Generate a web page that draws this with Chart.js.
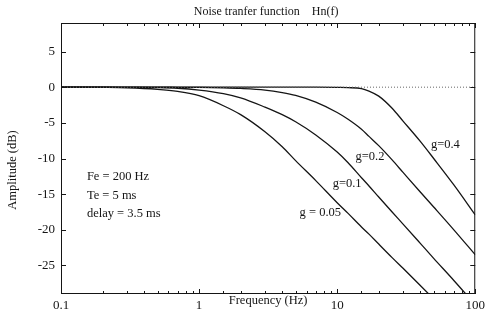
<!DOCTYPE html>
<html>
<head>
<meta charset="utf-8">
<script src="https://cdn.jsdelivr.net/npm/chart.js@4/dist/chart.umd.min.js"></script>
<style>
  html, body { margin: 0; padding: 0; background: #fff; }
  #c { display: block; }
</style>
</head>
<body>
<canvas id="c" width="489" height="319"></canvas>
<script>
// ---- data ----
const freqs = [0.1, 0.2, 0.3, 0.5, 0.7, 1, 1.5, 2, 3, 4, 5, 7, 10, 12, 15, 17, 20, 25, 30, 40, 50, 70, 100];
const g005  = [0, -0.03, -0.08, -0.3, -0.6, -1.2, -2.6, -3.85, -6.25, -8.35, -10.3, -13.1, -16.2, -17.7, -19.6, -20.6, -22.0, -23.9, -25.4, -27.8, -29.7, -32.6, -35.6];
const g01   = [0, 0, -0.02, -0.06, -0.15, -0.4, -0.9, -1.5, -2.8, -3.85, -4.85, -6.7, -9.1, -10.6, -12.7, -13.85, -15.4, -17.5, -19.2, -21.9, -24.0, -27.1, -30.5];
const g02   = [0, 0, 0, 0, -0.02, -0.04, -0.1, -0.18, -0.4, -0.75, -1.15, -2.1, -3.55, -4.5, -5.9, -6.9, -8.2, -10.2, -11.95, -14.7, -16.8, -20.0, -23.5];
const g04   = [0, 0, 0, 0, 0, 0, 0, 0, 0, 0, 0, 0, -0.03, -0.06, -0.2, -0.55, -1.25, -2.95, -4.75, -7.6, -10.0, -13.7, -17.9];
const zeroRef = [0, 0];
const zeroRefFreqs = [0.1, 100];
const seriesNames = ['g = 0.05', 'g=0.1', 'g=0.2', 'g=0.4'];
const xTickLabels = [0.1, 1, 10, 100];
const yTickValues = [-25, -20, -15, -10, -5, 0, 5];
const paramLines = ['Fe = 200 Hz', 'Te = 5 ms', 'delay = 3.5 ms'];

const toPts = (xs, ys) => xs.map((f, i) => ({ x: f, y: ys[i] }));

const FONT = '"Liberation Serif", "Times New Roman", serif';
const INK = '#151515';

const curveStyle = {
  borderColor: INK, borderWidth: 1.3, pointRadius: 0, fill: false,
  cubicInterpolationMode: 'monotone'
};

const annot = {
  id: 'annot',
  afterDraw(chart) {
    const { ctx, chartArea: a, scales: { x, y } } = chart;
    ctx.save();
    ctx.strokeStyle = INK;
    ctx.lineWidth = 1;
    // frame
    ctx.strokeRect(a.left + 0.5, a.top + 0.5, a.right - a.left - 1, a.bottom - a.top - 1);
    // x ticks (inward, top & bottom)
    ctx.beginPath();
    x.ticks.forEach(t => {
      const lg = Math.log10(t.value);
      const major = Math.abs(lg - Math.round(lg)) < 1e-6;
      const len = major ? 5 : 3;
      const px = Math.round(x.getPixelForValue(t.value)) + 0.5;
      ctx.moveTo(px, a.bottom); ctx.lineTo(px, a.bottom - len);
      ctx.moveTo(px, a.top); ctx.lineTo(px, a.top + len);
    });
    // y ticks (inward, left & right)
    yTickValues.forEach(v => {
      const py = Math.round(y.getPixelForValue(v)) + 0.5;
      ctx.moveTo(a.left, py); ctx.lineTo(a.left + 5, py);
      ctx.moveTo(a.right, py); ctx.lineTo(a.right - 5, py);
    });
    ctx.stroke();

    ctx.fillStyle = INK;
    ctx.textBaseline = 'middle';
    // title
    ctx.font = '12px ' + FONT;
    ctx.textAlign = 'center';
    ctx.fillText('Noise tranfer function    Hn(f)', (a.left + a.right) / 2 - 2, 11.5);
    // axis titles
    ctx.font = '12.5px ' + FONT;
    ctx.fillText('Frequency (Hz)', (a.left + a.right) / 2, 301);
    ctx.save();
    ctx.translate(13, 170);
    ctx.rotate(-Math.PI / 2);
    ctx.fillText('Amplitude (dB)', 0, 0);
    ctx.restore();
    // parameters
    ctx.textAlign = 'left';
    ctx.font = '12.5px ' + FONT;
    const paramPos = [-12.6, -15.2, -17.7];
    paramLines.forEach((s, i) => {
      ctx.fillText(s, x.getPixelForValue(0.154), y.getPixelForValue(paramPos[i]));
    });
    // curve labels
    ctx.textAlign = 'center';
    const labelPos = [[7.55, -17.6], [11.8, -13.6], [17.3, -9.8], [60.8, -8.0]];
    seriesNames.forEach((s, i) => {
      ctx.fillText(s, x.getPixelForValue(labelPos[i][0]), y.getPixelForValue(labelPos[i][1]));
    });
    ctx.restore();
  }
};

new Chart(document.getElementById('c'), {
  type: 'line',
  data: {
    datasets: [
      { data: toPts(zeroRefFreqs, zeroRef), borderColor: '#666', borderWidth: 1, borderDash: [1, 2], pointRadius: 0, fill: false },
      { label: seriesNames[0], data: toPts(freqs, g005), ...curveStyle },
      { label: seriesNames[1], data: toPts(freqs, g01), ...curveStyle },
      { label: seriesNames[2], data: toPts(freqs, g02), ...curveStyle },
      { label: seriesNames[3], data: toPts(freqs, g04), ...curveStyle }
    ]
  },
  options: {
    responsive: false,
    animation: false,
    devicePixelRatio: 1,
    layout: { padding: { top: 23, right: 11, bottom: 0, left: 0 } },
    plugins: { legend: { display: false }, title: { display: false }, tooltip: { enabled: false } },
    scales: {
      x: {
        type: 'logarithmic', min: 0.1, max: 100,
        grid: { display: false, drawTicks: false }, border: { display: false },
        afterFit(s) { s.height = 25; },
        ticks: {
          autoSkip: false, maxRotation: 0, padding: 4,
          color: INK, font: { family: FONT, size: 13 },
          callback(v) { return xTickLabels.some(t => Math.abs(t - v) < 1e-9) ? String(v) : ''; }
        }
      },
      y: {
        type: 'linear', min: -29, max: 9,
        grid: { display: false, drawTicks: false }, border: { display: false },
        afterFit(s) { s.width = 61; },
        afterBuildTicks(s) { s.ticks = yTickValues.map(v => ({ value: v })); },
        ticks: {
          padding: 6, color: INK, font: { family: FONT, size: 13 },
          callback(v) { return String(v); }
        }
      }
    }
  },
  plugins: [annot]
});
</script>
</body>
</html>
